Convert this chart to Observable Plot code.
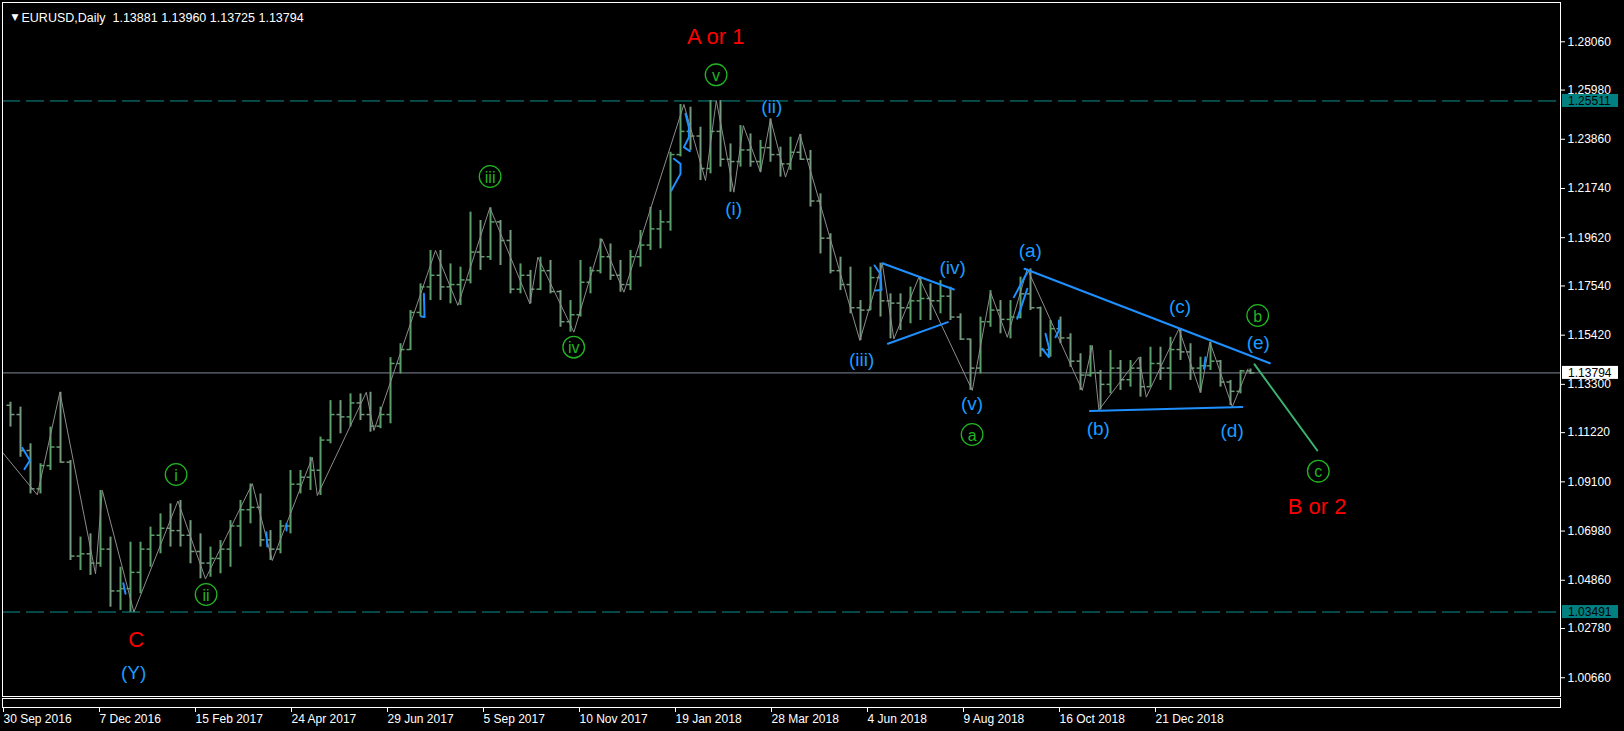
<!DOCTYPE html>
<html><head><meta charset="utf-8">
<script src="https://cdn.jsdelivr.net/npm/d3@7"></script>
<script src="https://cdn.jsdelivr.net/npm/@observablehq/plot@0.6"></script>
<style>html,body{margin:0;padding:0;background:#000;overflow:hidden}</style>
</head><body><div id="chart"></div>
<script>
// ---- data ----
const symbol = "EURUSD,Daily";
const lastOHLC = [1.13881, 1.13960, 1.13725, 1.13794];
const firstOpen = 1.1240;
const weekHigh = [1.1253,1.1232,1.1074,1.0988,1.1146,1.1296,1.1002,1.0672,1.0686,1.0873,
1.0672,1.0542,1.0650,1.0650,1.0715,1.0772,1.0815,1.0830,1.0743,1.0686,
1.0629,1.0657,1.0743,1.0830,1.0901,1.0858,1.0700,1.0743,1.0959,1.0959,
1.1016,1.1103,1.1260,1.1260,1.1289,1.1289,1.1296,1.1232,1.1445,1.1505,
1.1648,1.1763,1.1907,1.1907,1.1849,1.1835,1.2072,1.2036,1.2091,1.2036,
1.1993,1.1849,1.1821,1.1878,1.1864,1.1734,1.1691,1.1864,1.1835,1.1957,
1.1935,1.1864,1.1907,1.1993,1.2093,1.2079,1.2330,1.2536,1.2524,1.2438,
1.2553,1.2553,1.2366,1.2445,1.2409,1.2381,1.2474,1.2352,1.2395,1.2407,
1.2338,1.2151,1.1979,1.1878,1.1835,1.1691,1.1835,1.1852,1.1720,1.1720,
1.1749,1.1792,1.1763,1.1777,1.1749,1.1634,1.1525,1.1620,1.1734,1.1691,
1.1691,1.1792,1.1828,1.1663,1.1605,1.1620,1.1548,1.1462,1.1497,1.1390,
1.1476,1.1433,1.1433,1.1447,1.1490,1.1490,1.1533,1.1569,1.1505,1.1447,
1.1512,1.1433,1.1347,1.1390,1.13960];
const weekLow = [1.1146,1.1016,1.0858,1.0858,1.0959,1.0990,1.0571,1.0528,1.0507,1.0542,
1.0370,1.0356,1.0348,1.0428,1.0542,1.0600,1.0629,1.0629,1.0557,1.0492,
1.0499,1.0514,1.0542,1.0629,1.0729,1.0629,1.0571,1.0600,1.0686,1.0858,
1.0873,1.0851,1.1074,1.1117,1.1146,1.1174,1.1124,1.1139,1.1160,1.1375,
1.1476,1.1620,1.1691,1.1691,1.1677,1.1670,1.1763,1.1821,1.1864,1.1842,
1.1720,1.1720,1.1677,1.1734,1.1720,1.1576,1.1555,1.1620,1.1720,1.1806,
1.1778,1.1727,1.1734,1.1835,1.1907,1.1914,1.1990,1.2310,1.2338,1.2208,
1.2237,1.2266,1.2158,1.2266,1.2266,1.2244,1.2287,1.2223,1.2252,1.2295,
1.2094,1.1892,1.1806,1.1734,1.1634,1.1519,1.1648,1.1620,1.1526,1.1562,
1.1591,1.1605,1.1605,1.1634,1.1605,1.1519,1.1304,1.1375,1.1576,1.1548,
1.1526,1.1612,1.1648,1.1447,1.1447,1.1505,1.1404,1.1304,1.1361,1.1220,
1.1289,1.1304,1.1318,1.1275,1.1318,1.1347,1.1304,1.1433,1.1347,1.1292,
1.1390,1.1318,1.1239,1.1289,1.13725];
const weekClose = [1.1200,1.1045,1.0880,1.0980,1.1060,1.0995,1.0590,1.0600,1.0560,1.0620,
1.0440,1.0450,1.0520,1.0620,1.0680,1.0710,1.0700,1.0680,1.0610,1.0560,
1.0580,1.0620,1.0720,1.0790,1.0800,1.0660,1.0620,1.0720,1.0900,1.0930,
1.0960,1.1090,1.1200,1.1190,1.1250,1.1200,1.1150,1.1200,1.1420,1.1480,
1.1640,1.1750,1.1800,1.1750,1.1760,1.1780,1.1900,1.1880,1.2030,1.1950,
1.1740,1.1800,1.1740,1.1820,1.1730,1.1600,1.1630,1.1770,1.1820,1.1880,
1.1800,1.1760,1.1880,1.1930,1.2000,1.2030,1.2320,1.2420,1.2400,1.2260,
1.2420,1.2300,1.2290,1.2340,1.2290,1.2350,1.2320,1.2280,1.2330,1.2300,
1.2120,1.1960,1.1820,1.1760,1.1660,1.1650,1.1790,1.1690,1.1680,1.1660,
1.1690,1.1700,1.1690,1.1710,1.1620,1.1525,1.1400,1.1600,1.1650,1.1610,
1.1620,1.1720,1.1660,1.1480,1.1570,1.1530,1.1430,1.1370,1.1380,1.1330,
1.1400,1.1350,1.1400,1.1320,1.1420,1.1400,1.1480,1.1470,1.1400,1.1410,
1.1430,1.1340,1.1300,1.1388,1.13794];

// zigzag swing points (bar index, price)
const zigIdx = [-1,16.4,27.7,45.5,48.9,64.7,86.7,100.5,123.9,133.9,153.9,156.4,180.9,184.7,215.5,226.7,242.7,262.7,266.7,284.7,298.7,309.7,339.7,350.5,355.9,364.7,369.4,378,383,390.5,397.7,427.7,438.9,444.7,457.2,483.9,493,501.4,511.4,538.9,543.9,547.2,567.2,570.9,587.2,598,602.7,613.9,621.7];
const zigPrice = [1.1037,1.0854,1.1296,1.0514,1.0873,1.0349,1.0827,1.0492,1.0902,1.0571,1.1016,1.0851,1.1296,1.1131,1.1907,1.1670,1.2091,1.1677,1.1878,1.1555,1.1957,1.1727,1.2536,1.2208,1.2553,1.2158,1.2445,1.2244,1.2474,1.2223,1.2407,1.1519,1.1850,1.1526,1.1792,1.1304,1.1727,1.1533,1.1828,1.1304,1.1498,1.1220,1.1447,1.1275,1.1569,1.1296,1.1512,1.1233,1.1396];

// blue trend lines and small wave segments (group, bar index, price)
const blueId = ["T1","T1","T2","T2","T3","T3","T4","T4",
"A","A","A","B","B","C","C","D","D","E","E","E","F","F","F","F","G","G","G","G","G","H","H","H","H","I","I","J","J","K","K","K","K","L","L","L","M","M"];
const blueIdx = [510,632.7,542.7,618.9,438.9,474.7,441.7,471.7,
8.9,12.7,10,59.4,60.5,130.9,131.4,141,141,209.7,210,208.4,334.7,338,338,333.4,340.5,342.2,342.2,339.7,342.7,435,438,438.5,435.5,504.7,511.4,506.4,511.4,520.5,522.2,522.2,518.9,527.2,527.2,525.5,600.5,599.7];
const bluePrice = [1.1828,1.1421,1.1215,1.1232,1.1852,1.1739,1.1505,1.1598,
1.1057,1.1002,1.0965,1.0473,1.0428,1.0693,1.0632,1.0729,1.0700,1.1720,1.1620,1.1622,1.2302,1.2280,1.2237,1.2165,1.2496,1.2438,1.2395,1.2352,1.2335,1.1842,1.1806,1.1737,1.1734,1.1706,1.1813,1.1613,1.1742,1.1548,1.1490,1.1447,1.1483,1.1605,1.1562,1.1533,1.1447,1.1397];

// projected wave (c)
const projIdx = [625, 656.4];
const projPrice = [1.1416, 1.1045];

// labels
const blueText = ["(Y)","(i)","(ii)","(iii)","(iv)","(v)","(a)","(b)","(c)","(d)","(e)"];
const blueLIdx = [64.6,364.6,383.6,428.6,474.1,483.8,512.9,546.9,587.8,613.8,626.9];
const blueLPrice = [1.00856,1.20847,1.25272,1.14359,1.18305,1.12463,1.19068,1.11386,1.16655,1.11282,1.15074];
const circText = ["i","ii","iii","iv","v","a","b","c"];
const circIdx = [85.8,100.8,242.8,284.6,355.8,483.8,626.6,656.9];
const circPrice = [1.09417,1.04247,1.22256,1.14902,1.26638,1.11140,1.16268,1.09559];
const redText = ["C","A or 1","B or 2"];
const redIdx = [65.8,355.6,656.3];
const redPrice = [1.02295,1.28275,1.08038];

// levels and axes
const levelDashed = [1.25511, 1.03491];
const yTicks = [1.28060,1.25980,1.23860,1.21740,1.19620,1.17540,1.15420,1.13300,1.11220,1.09100,1.06980,1.04860,1.02780,1.00660];
const xTickIdx = [0,48,96,144,192,240,288,336,384,432,480,528,576];
const xTickText = ["30 Sep 2016","7 Dec 2016","15 Feb 2017","24 Apr 2017","29 Jun 2017","5 Sep 2017","10 Nov 2017","19 Jan 2018","28 Mar 2018","4 Jun 2018","9 Aug 2018","16 Oct 2018","21 Dec 2018"];

// ---- tables ----
const bars = weekHigh.map((h, w) => ({
  i: 3 + 5 * w, high: h, low: weekLow[w],
  open: w ? weekClose[w - 1] : firstOpen, close: weekClose[w]
}));
const zig = zigIdx.map((i, k) => ({i, p: zigPrice[k]}));
const blue = blueIdx.map((i, k) => ({i, p: bluePrice[k], g: blueId[k]}));
const proj = projIdx.map((i, k) => ({i, p: projPrice[k]}));
const blueL = blueText.map((t, k) => ({t, i: blueLIdx[k], p: blueLPrice[k]}));
const circL = circText.map((t, k) => ({t, i: circIdx[k], p: circPrice[k]}));
const redL = redText.map((t, k) => ({t, i: redIdx[k], p: redPrice[k]}));
const last = lastOHLC[3];
const boxes = [
  {p: levelDashed[0], fill: "#008080", text: "#000"},
  {p: last, fill: "#ffffff", text: "#000"},
  {p: levelDashed[1], fill: "#008080", text: "#000"}
];
const xLast = 778;

const upColor = "#5a9f6a", downColor = "#74997e";
const barColor = d => d.close >= d.open ? upColor : downColor;
const blueC = "#1e90ff", labelBlue = "#1a9cff", greenC = "#22b522";

const chart = Plot.plot({
  width: 1624, height: 731,
  marginLeft: 2, marginTop: 2, marginRight: 64, marginBottom: 35,
  style: {background: "#000", color: "#fff", fontFamily: "Liberation Sans, Arial, sans-serif", fontSize: "12px"},
  x: {type: "linear", domain: [-1, xLast], axis: null, label: null},
  y: {domain: [0.99852, 1.29753], axis: null, label: null},
  marks: [
    Plot.ruleY(levelDashed, {stroke: "#0e8f8f", strokeDasharray: "18,6", strokeWidth: 1}),
    Plot.ruleY([last], {stroke: "#7d8a96", strokeWidth: 1}),
    Plot.ruleX(bars, {x: "i", y1: "low", y2: "high", stroke: barColor, strokeWidth: 2}),
    Plot.link(bars, {x1: d => d.i - 2, x2: "i", y1: "open", y2: "open", stroke: barColor, strokeWidth: 1.5}),
    Plot.link(bars, {x1: "i", x2: d => d.i + 2, y1: "close", y2: "close", stroke: barColor, strokeWidth: 1.5}),
    Plot.line(zig, {x: "i", y: "p", stroke: "#8c8c8c", strokeWidth: 1}),
    Plot.line(blue, {x: "i", y: "p", z: "g", stroke: blueC, strokeWidth: 2}),
    Plot.line(proj, {x: "i", y: "p", stroke: "#3cb371", strokeWidth: 2}),
    Plot.text(blueL, {x: "i", y: "p", text: "t", fill: labelBlue, fontSize: 19}),
    Plot.dot(circL, {x: "i", y: "p", r: 10.8, stroke: greenC, strokeWidth: 1.3, fill: "none"}),
    Plot.text(circL, {x: "i", y: "p", text: "t", fill: greenC, fontSize: 16, dy: 1}),
    Plot.text(redL, {x: "i", y: "p", text: "t", fill: "#ff0000", fontSize: 22}),
    Plot.axisY(yTicks, {anchor: "right", tickSize: 4, tickPadding: 3, stroke: "#fff", fill: "#fff", label: null, tickFormat: d => d.toFixed(5)}),
    Plot.rect(boxes, {x1: xLast + 1, x2: xLast + 29, y1: d => d.p - 0.0028, y2: d => d.p + 0.0028, fill: "fill"}),
    Plot.text(boxes, {x: xLast + 3.8, y: "p", text: d => d.p.toFixed(5), fill: "text", textAnchor: "start"}),
    Plot.axisX(xTickIdx, {anchor: "bottom", tickSize: 4, tickPadding: 2, dy: 12, dx: -1, stroke: "#fff", fill: "#fff", label: null, textAnchor: "start", tickFormat: d => xTickText[xTickIdx.indexOf(d)]}),
    Plot.frame({stroke: "#fff"}),
    Plot.frame({stroke: "#fff", insetTop: 696, insetBottom: -11}),
    Plot.text(["\u25BC"], {frameAnchor: "top-left", dx: 9, dy: 11, fill: "#fff", fontSize: 9, fontFamily: "DejaVu Sans"}),
    Plot.text([symbol + "\u00a0\u00a0" + lastOHLC.map(v => v.toFixed(5)).join(" ")], {frameAnchor: "top-left", dx: 19, dy: 11, fill: "#fff", textAnchor: "start", fontSize: 12.5})
  ]
});
document.getElementById("chart").append(chart);
</script></body></html>
